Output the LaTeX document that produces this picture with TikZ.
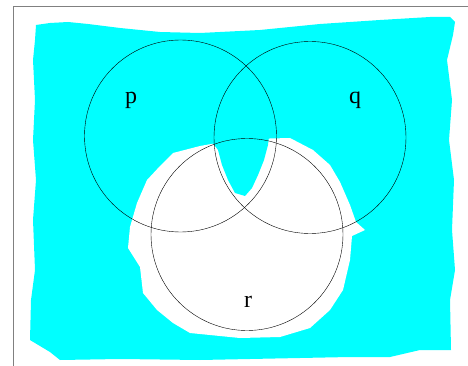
\documentclass[tikz,border=0pt]{standalone}
\usepackage{fontspec}
\setmainfont{Liberation Serif}
\usepackage{tikz}
\usetikzlibrary{positioning}
\definecolor{shade}{RGB}{0,255,255}
\definecolor{frameg}{RGB}{128,128,128}

\begin{document}
\begin{tikzpicture}[x=1pt, y=-1pt,
  setc/.style={draw, circle, thin, minimum size=192pt, inner sep=0pt},
  lbl/.style={font=\fontsize{24}{24}\selectfont, inner sep=0pt},
  paint/.style={fill=shade, draw=none},
]
\useasboundingbox (0,0) rectangle (468,366);
% outer frame (top and left edges show)
\coordinate (fr0) at (13,366);
\coordinate (fr1) at (13,6);
\coordinate (fr2) at (468,6);
\draw[frameg, line width=0.8pt] (fr0) -- (fr1) -- (fr2);
% hand shading
\fill[paint] (36,25) -- (50,23) -- (68,22) -- (88,24) -- (120,28) -- (160,32) -- (200,33)
  -- (260,30) -- (320,24) -- (380,20) -- (430,17) -- (450,17) -- (455,22) -- (453,35)
  -- (447,60) -- (452,100) -- (449,140) -- (454,180) -- (452,230) -- (455,270)
  -- (450,300) -- (451,350) -- (420,350) -- (390,357) -- (350,357) -- (300,358)
  -- (200,360) -- (120,359) -- (60,360) -- (50,352) -- (30,340) -- (31,300)
  -- (35,270) -- (33,220) -- (36,180) -- (33,140) -- (35,100) -- (33,60) -- (35,40) -- cycle;
\fill[white] (173,153) -- (200,146) -- (217,143) -- (250,139) -- (290,138) -- (313,150)
  -- (330,165) -- (340,182) -- (350,205) -- (356,222) -- (365,230) -- (352,236)
  -- (350,260) -- (343,290) -- (330,310) -- (310,328) -- (280,337) -- (240,338)
  -- (190,333) -- (173,323) -- (157,310) -- (143,293) -- (140,267) -- (128,248)
  -- (130,227) -- (137,203) -- (147,180) -- (160,166) -- cycle;
\fill[paint] (212,128) -- (212,142) -- (218,150) -- (222,165) -- (228,180) -- (235,193)
  -- (245,196) -- (252,188) -- (258,175) -- (264,160) -- (268,145) -- (270,128) -- cycle;
% the three sets
\node[setc] (p) at (180.5,136) {};
\node[setc] (q) at (310,137.5) {};
\node[setc] (r) at (247,234.5) {};
\node[lbl] (plbl) at (131,100) {p};
\node[lbl] (qlbl) at (355,100) {q};
\node[lbl] (rlbl) at (248,302) {r};
\end{tikzpicture}
\end{document}
